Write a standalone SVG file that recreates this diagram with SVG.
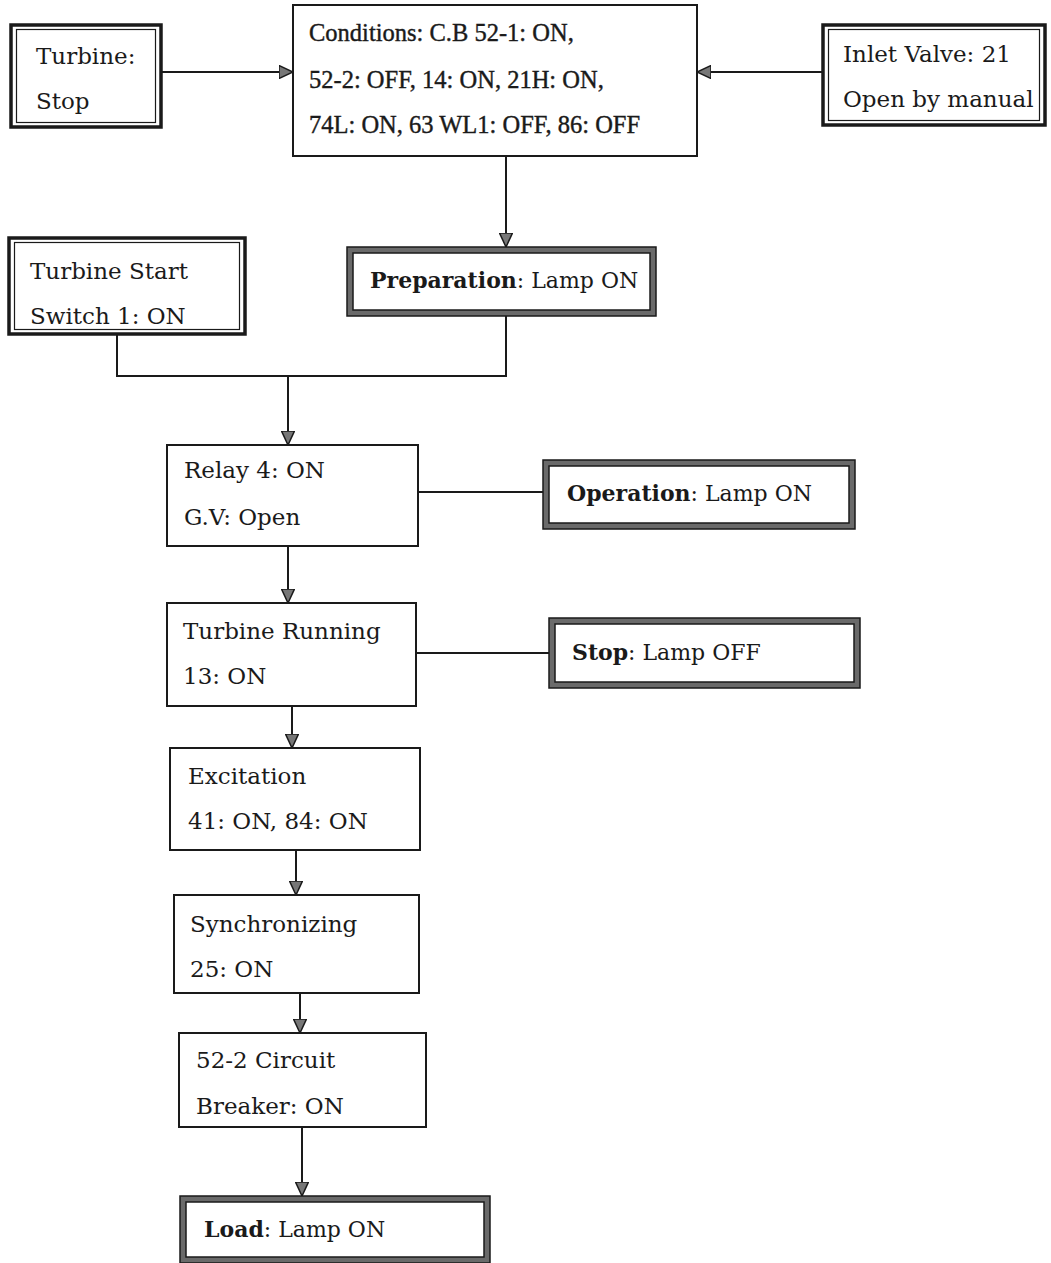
<svg xmlns="http://www.w3.org/2000/svg" width="1051" height="1263" viewBox="0 0 1051 1263">
<style>
  .t { font-family: "DejaVu Serif", "Liberation Serif", serif; font-size: 23px; fill: #1a1a1a; }
  .l { font-family: "DejaVu Serif", "Liberation Serif", serif; font-size: 22px; fill: #1a1a1a; }
  .c { font-family: "Liberation Serif", "Times New Roman", serif; font-size: 24.5px; fill: #1a1a1a; stroke: #1a1a1a; stroke-width: 0.4px; }
  .b { font-weight: bold; }
  .thin { fill: #fff; stroke: #1a1a1a; stroke-width: 2; }
  .dblo { fill: #fff; stroke: #1a1a1a; stroke-width: 3.5; }
  .dbli { fill: none; stroke: #1a1a1a; stroke-width: 1.2; }
  .lampg { fill: #fff; stroke: #6a6a6a; stroke-width: 6; }
  .lampl { fill: none; stroke: #1a1a1a; stroke-width: 1.5; }
  .conn { fill: none; stroke: #1a1a1a; stroke-width: 2; }
  .arr { fill: none; stroke: #1a1a1a; stroke-width: 2; marker-end: url(#ah); }
</style>
<defs>
  <marker id="ah" viewBox="0 0 14 14" refX="14" refY="7" markerWidth="14" markerHeight="14" markerUnits="userSpaceOnUse" orient="auto">
    <path d="M0,0.5 L14,7 L0,13.5 Z" fill="#777" stroke="#1a1a1a" stroke-width="1.5"/>
  </marker>
</defs>
<rect width="1051" height="1263" fill="#fff"/>

<g id="connectors">
  <path class="arr" d="M162,72 H293"/>
  <path class="arr" d="M822,72 H697"/>
  <path class="arr" d="M506,156 V247"/>
  <path class="conn" d="M117,335 V376 H506 V316"/>
  <path class="arr" d="M288,376 V445"/>
  <path class="conn" d="M418,492 H543"/>
  <path class="arr" d="M288,546 V603"/>
  <path class="conn" d="M416,653 H549"/>
  <path class="arr" d="M292,706 V748"/>
  <path class="arr" d="M296,850 V895"/>
  <path class="arr" d="M300,993 V1033"/>
  <path class="arr" d="M302,1127 V1196"/>
</g>

<g id="turbine-stop">
  <rect class="dblo" x="11" y="25" width="150" height="102"/>
  <rect class="dbli" x="16.5" y="29.5" width="139" height="93"/>
  <text class="t" x="36" y="64">Turbine:</text>
  <text class="t" x="36" y="109">Stop</text>
</g>

<g id="conditions">
  <rect class="thin" x="293" y="5" width="404" height="151"/>
  <text class="c" x="309" y="41">Conditions: C.B 52-1: ON,</text>
  <text class="c" x="309" y="88">52-2: OFF, 14: ON, 21H: ON,</text>
  <text class="c" x="309" y="133">74L: ON, 63 WL1: OFF, 86: OFF</text>
</g>

<g id="inlet-valve">
  <rect class="dblo" x="823" y="25" width="222" height="100"/>
  <rect class="dbli" x="828.5" y="29.5" width="211" height="91"/>
  <text class="t" x="843" y="62">Inlet Valve: 21</text>
  <text class="t" x="843" y="107">Open by manual</text>
</g>

<g id="turbine-start">
  <rect class="dblo" x="9" y="238" width="236" height="96"/>
  <rect class="dbli" x="14.5" y="242.5" width="225" height="87"/>
  <text class="t" x="30" y="279">Turbine Start</text>
  <text class="t" x="30" y="324">Switch 1: ON</text>
</g>

<g id="preparation">
  <rect class="lampg" x="350" y="250" width="303" height="63"/>
  <rect class="lampl" x="347" y="247" width="309" height="69"/>
  <rect class="lampl" x="353" y="253" width="297" height="57"/>
  <text class="l" x="370" y="288"><tspan class="b">Preparation</tspan>: Lamp ON</text>
</g>

<g id="relay">
  <rect class="thin" x="167" y="445" width="251" height="101"/>
  <text class="t" x="184" y="478">Relay 4: ON</text>
  <text class="t" x="184" y="525">G.V: Open</text>
</g>

<g id="operation">
  <rect class="lampg" x="546" y="463" width="306" height="63"/>
  <rect class="lampl" x="543" y="460" width="312" height="69"/>
  <rect class="lampl" x="549" y="466" width="300" height="57"/>
  <text class="l" x="567" y="501"><tspan class="b">Operation</tspan>: Lamp ON</text>
</g>

<g id="turbine-running">
  <rect class="thin" x="167" y="603" width="249" height="103"/>
  <text class="t" x="183" y="639">Turbine Running</text>
  <text class="t" x="183" y="684">13: ON</text>
</g>

<g id="stop-lamp">
  <rect class="lampg" x="552" y="621" width="305" height="64"/>
  <rect class="lampl" x="549" y="618" width="311" height="70"/>
  <rect class="lampl" x="555" y="624" width="299" height="58"/>
  <text class="l" x="572" y="660"><tspan class="b">Stop</tspan>: Lamp OFF</text>
</g>

<g id="excitation">
  <rect class="thin" x="170" y="748" width="250" height="102"/>
  <text class="t" x="188" y="784">Excitation</text>
  <text class="t" x="188" y="829">41: ON, 84: ON</text>
</g>

<g id="synchronizing">
  <rect class="thin" x="174" y="895" width="245" height="98"/>
  <text class="t" x="190" y="932">Synchronizing</text>
  <text class="t" x="190" y="977">25: ON</text>
</g>

<g id="circuit-breaker">
  <rect class="thin" x="179" y="1033" width="247" height="94"/>
  <text class="t" x="196" y="1068">52-2 Circuit</text>
  <text class="t" x="196" y="1114">Breaker: ON</text>
</g>

<g id="load">
  <rect class="lampg" x="183" y="1199" width="304" height="61"/>
  <rect class="lampl" x="180" y="1196" width="310" height="67"/>
  <rect class="lampl" x="186" y="1202" width="298" height="55"/>
  <text class="l" x="204" y="1237"><tspan class="b">Load</tspan>: Lamp ON</text>
</g>
</svg>
